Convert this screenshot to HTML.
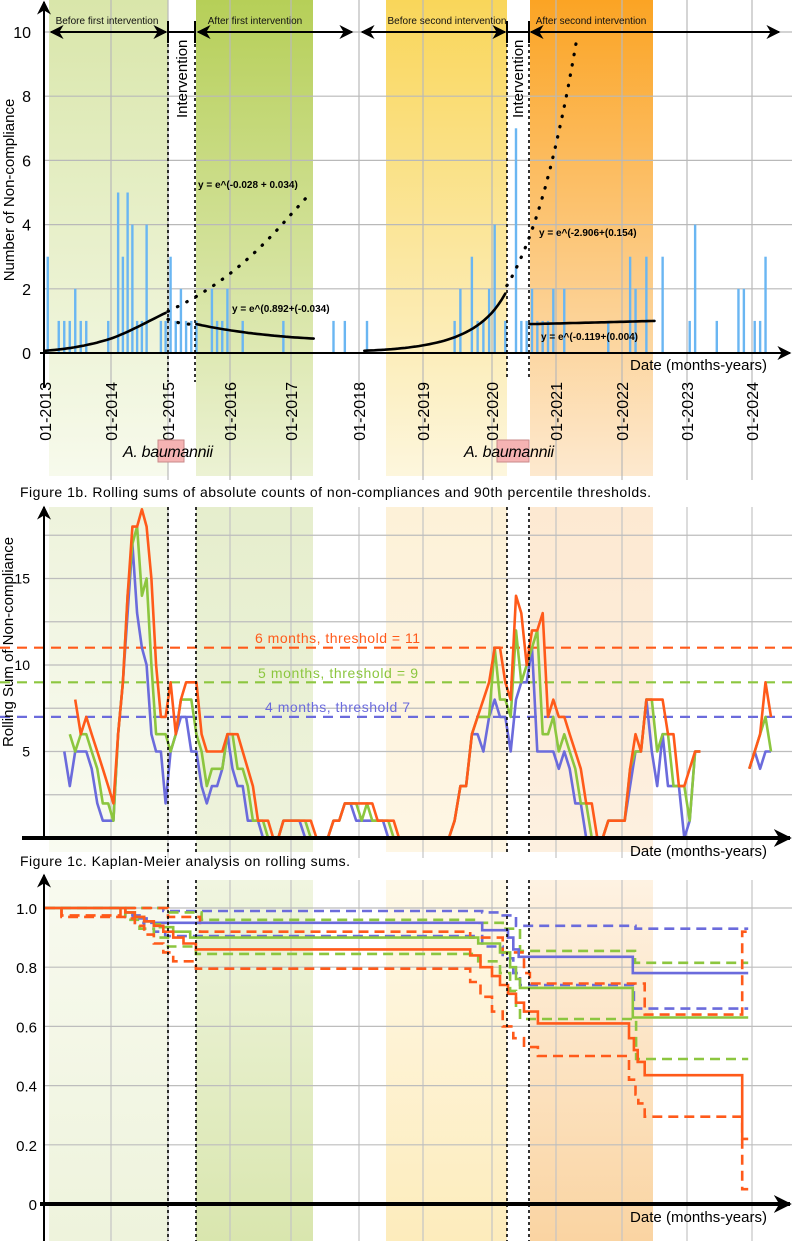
<!DOCTYPE html>
<html><head><meta charset="utf-8">
<style>
html,body{margin:0;padding:0;background:#fff;}
svg{display:block;font-family:"Liberation Sans",Arial,sans-serif;}
</style></head>
<body>
<svg id="fig" width="792" height="1241" viewBox="0 0 792 1241" xmlns="http://www.w3.org/2000/svg">
<defs>
<linearGradient id="ga1" x1="0" y1="0" x2="0" y2="1"><stop offset="0" stop-color="#d9e6aa"/><stop offset="1" stop-color="#f7faec"/></linearGradient>
<linearGradient id="ga2" x1="0" y1="0" x2="0" y2="1"><stop offset="0" stop-color="#b6cf58"/><stop offset="1" stop-color="#ecf2d4"/></linearGradient>
<linearGradient id="ga3" x1="0" y1="0" x2="0" y2="1"><stop offset="0" stop-color="#f9d65a"/><stop offset="1" stop-color="#fdf6dd"/></linearGradient>
<linearGradient id="ga4" x1="0" y1="0" x2="0" y2="1"><stop offset="0" stop-color="#fba424"/><stop offset="1" stop-color="#fde9cf"/></linearGradient>
<linearGradient id="gb1" x1="0" y1="0" x2="0" y2="1"><stop offset="0" stop-color="#eef3dc"/><stop offset="1" stop-color="#f9fbf1"/></linearGradient>
<linearGradient id="gb2" x1="0" y1="0" x2="0" y2="1"><stop offset="0" stop-color="#e6eecd"/><stop offset="1" stop-color="#eef3dc"/></linearGradient>
<linearGradient id="gb3" x1="0" y1="0" x2="0" y2="1"><stop offset="0" stop-color="#fdf1d8"/><stop offset="1" stop-color="#fef6e4"/></linearGradient>
<linearGradient id="gb4" x1="0" y1="0" x2="0" y2="1"><stop offset="0" stop-color="#fde9d2"/><stop offset="1" stop-color="#fdf0e0"/></linearGradient>
<linearGradient id="gc1" x1="0" y1="0" x2="0" y2="1"><stop offset="0" stop-color="#f8faef"/><stop offset="1" stop-color="#eef3dc"/></linearGradient>
<linearGradient id="gc2" x1="0" y1="0" x2="0" y2="1"><stop offset="0" stop-color="#f0f5e0"/><stop offset="1" stop-color="#d9e6ae"/></linearGradient>
<linearGradient id="gc3" x1="0" y1="0" x2="0" y2="1"><stop offset="0" stop-color="#fef8e8"/><stop offset="1" stop-color="#fdecbc"/></linearGradient>
<linearGradient id="gc4" x1="0" y1="0" x2="0" y2="1"><stop offset="0" stop-color="#fef2e2"/><stop offset="1" stop-color="#fad4a2"/></linearGradient>
<marker id="ah" viewBox="0 0 10 10" refX="9" refY="5" markerUnits="userSpaceOnUse" markerWidth="14" markerHeight="14" orient="auto-start-reverse"><path d="M0,0 L10,5 L0,10 L3,5 z" fill="#000"/></marker>
<marker id="ahb" viewBox="0 0 10 10" refX="9" refY="5" markerUnits="userSpaceOnUse" markerWidth="18" markerHeight="18" orient="auto-start-reverse"><path d="M0,0 L10,5 L0,10 L3,5 z" fill="#000"/></marker>
</defs>

<g>
<rect x="49" y="0" width="119" height="476" fill="url(#ga1)"/>
<rect x="196" y="0" width="117" height="476" fill="url(#ga2)"/>
<rect x="386" y="0" width="121" height="476" fill="url(#ga3)"/>
<rect x="530" y="0" width="123" height="476" fill="url(#ga4)"/>
<rect x="49" y="507" width="119" height="345" fill="url(#gb1)"/>
<rect x="196" y="507" width="117" height="345" fill="url(#gb2)"/>
<rect x="386" y="507" width="121" height="345" fill="url(#gb3)"/>
<rect x="530" y="507" width="123" height="345" fill="url(#gb4)"/>
<rect x="49" y="880" width="119" height="361" fill="url(#gc1)"/>
<rect x="196" y="880" width="117" height="361" fill="url(#gc2)"/>
<rect x="386" y="880" width="121" height="361" fill="url(#gc3)"/>
<rect x="530" y="880" width="123" height="361" fill="url(#gc4)"/>
</g>
<g id="grid"></g>
<g id="marks"></g>

<g stroke="#000" stroke-width="1.6" stroke-dasharray="3,3">
<line x1="168" y1="32" x2="168" y2="382"/>
<line x1="195" y1="32" x2="195" y2="382"/>
<line x1="507" y1="32" x2="507" y2="380"/>
<line x1="529" y1="32" x2="529" y2="380"/>
<line x1="168" y1="507" x2="168" y2="852"/>
<line x1="196" y1="507" x2="196" y2="852"/>
<line x1="507" y1="507" x2="507" y2="852"/>
<line x1="529" y1="507" x2="529" y2="852"/>
<line x1="168" y1="880" x2="168" y2="1241"/>
<line x1="196" y1="880" x2="196" y2="1241"/>
<line x1="507" y1="880" x2="507" y2="1241"/>
<line x1="529" y1="880" x2="529" y2="1241"/>
</g>

<g stroke="#000" stroke-width="2" fill="none">
<line x1="51" y1="32" x2="166" y2="32" marker-start="url(#ah)" marker-end="url(#ah)"/>
<line x1="168" y1="32" x2="195" y2="32"/>
<line x1="168" y1="21" x2="168" y2="43"/>
<line x1="195" y1="21" x2="195" y2="43"/>
<line x1="198" y1="32" x2="352" y2="32" marker-start="url(#ah)" marker-end="url(#ah)"/>
<line x1="362" y1="32" x2="505" y2="32" marker-start="url(#ah)" marker-end="url(#ah)"/>
<line x1="507" y1="32" x2="529" y2="32"/>
<line x1="507" y1="21" x2="507" y2="43"/>
<line x1="529" y1="21" x2="529" y2="43"/>
<line x1="531" y1="32" x2="779" y2="32" marker-start="url(#ah)" marker-end="url(#ah)"/>
</g>
<g font-size="10" fill="#111" text-anchor="middle">
<text x="107" y="24">Before first intervention</text>
<text x="255" y="24">After first intervention</text>
<text x="447" y="24">Before second intervention</text>
<text x="591" y="24">After second intervention</text>
</g>
<text font-size="15" transform="translate(187,118) rotate(-90)">Intervention</text>
<text font-size="15" transform="translate(523,118) rotate(-90)">Intervention</text>

<g stroke="#000" fill="none">
<line x1="44" y1="388" x2="44" y2="2" stroke-width="2" marker-end="url(#ah)"/>
<line x1="40" y1="353" x2="790" y2="353" stroke-width="2" marker-end="url(#ah)"/>
<line x1="44" y1="838" x2="44" y2="507" stroke-width="2" marker-end="url(#ah)"/>
<line x1="22" y1="838" x2="790" y2="838" stroke-width="4" marker-end="url(#ahb)"/>
<line x1="44" y1="1241" x2="44" y2="875" stroke-width="2" marker-end="url(#ah)"/>
<line x1="40" y1="1204" x2="790" y2="1204" stroke-width="4" marker-end="url(#ahb)"/>
</g>

<g id="labels"></g>

<text font-size="15" text-anchor="middle" transform="translate(14,190) rotate(-90)">Number of Non-compliance</text>
<text font-size="15" text-anchor="middle" transform="translate(13,642) rotate(-90)">Rolling Sum of Non-compliance</text>
<text font-size="15" x="630" y="370" textLength="137">Date (months-years)</text>
<text font-size="15" x="630" y="856" textLength="137">Date (months-years)</text>
<text font-size="15" x="630" y="1222" textLength="137">Date (months-years)</text>

<text font-size="14" x="20" y="497" textLength="631">Figure 1b. Rolling sums of absolute counts of non-compliances and 90th percentile thresholds.</text>
<text font-size="14" x="20" y="866" textLength="330">Figure 1c. Kaplan-Meier analysis on rolling sums.</text>

<g>
<rect x="158" y="440" width="26" height="22" fill="#f5b3b3" stroke="#c98a8a"/>
<rect x="497" y="440" width="32" height="22" fill="#f5b3b3" stroke="#c98a8a"/>
<text font-size="16" font-style="italic" x="123" y="457" textLength="90">A. baumannii</text>
<text font-size="16" font-style="italic" x="464" y="457" textLength="90">A. baumannii</text>
</g>

<g font-size="14" text-anchor="start">
<text x="255" y="643" fill="#ff5a1a" textLength="165">6 months, threshold = 11</text>
<text x="258" y="678" fill="#8cc63f" textLength="160">5 months, threshold = 9</text>
<text x="265" y="712" fill="#6b6bdc" textLength="145">4 months, threshold 7</text>
</g>

<g font-size="10" font-weight="bold">
<text x="198" y="188">y = e^(-0.028 + 0.034)</text>
<text x="232" y="312">y = e^(0.892+(-0.034)</text>
<text x="539" y="236">y = e^(-2.906+(0.154)</text>
<text x="541" y="340">y = e^(-0.119+(0.004)</text>
</g>
</svg>

<script>
// ---------- data ----------
const yearLabels = ["01-2013","01-2014","01-2015","01-2016","01-2017","01-2018","01-2019","01-2020","01-2021","01-2022","01-2023","01-2024"];
const topTicks = [0,2,4,6,8,10];
const rollTicks = [5,10,15];
const rollGrid = [2.5,5,7.5,10,12.5,15,17.5];
const kmTicks = [0,0.2,0.4,0.6,0.8,1.0];
const kmTickLabels = ["0","0.2","0.4","0.6","0.8","1.0"];
const barMonths = [0,2,3,4,5,6,7,11,13,14,15,16,17,18,19,22,23,24,25,26,27,28,29,32,33,34,35,38,46,55,57,61,77,78,80,81,82,83,84,86,88,89,90,91,92,93,94,95,97,105,109,110,112,115,120,121,125,129,130,132,133,134];
const barCounts = [3,1,1,1,2,1,1,1,5,3,5,4,1,1,4,1,1,3,1,2,1,1,1,2,1,1,2,1,1,1,1,1,1,2,3,1,1,2,4,1,7,1,1,2,1,1,1,2,2,1,3,2,3,3,1,4,1,2,2,1,1,3];
const roll4 = [null,null,null,5,3,5,5,5,4,2,1,1,1,6,9,13,17,13,11,10,6,5,5,2,5,6,7,7,5,5,3,2,3,3,4,6,4,3,3,1,1,1,0,0,0,0,1,1,1,1,0,0,0,0,0,1,1,2,2,1,1,1,1,1,1,0,0,0,0,0,0,0,0,0,0,0,0,1,3,3,6,6,5,7,8,7,7,5,8,9,9,11,5,5,5,5,4,5,4,2,2,0,0,0,0,1,1,1,1,3,5,5,8,5,3,6,3,3,3,0,1,5,5,null,null,null,null,null,null,null,null,4,5,4,5,5];
const roll5 = [null,null,null,null,6,5,6,6,5,4,2,2,1,6,9,14,17,18,14,15,10,6,6,6,5,6,8,8,8,6,5,3,4,4,4,6,6,4,4,3,1,1,1,0,0,0,1,1,1,1,1,0,0,0,0,1,1,2,2,2,1,2,1,1,1,1,0,0,0,0,0,0,0,0,0,0,0,1,3,3,6,7,7,7,11,8,8,7,12,9,10,11,12,6,6,7,5,6,5,4,2,2,0,0,0,1,1,1,1,4,5,5,8,8,5,6,6,3,3,3,1,5,5,null,null,null,null,null,null,null,null,4,5,6,7,5];
const roll6 = [null,null,null,null,null,8,6,7,6,5,4,3,2,6,9,14,18,18,19,18,15,10,7,7,9,6,8,9,9,9,6,5,5,5,5,6,6,6,5,4,3,1,1,1,0,0,1,1,1,1,1,1,0,0,0,1,1,2,2,2,2,2,2,1,1,1,1,0,0,0,0,0,0,0,0,0,0,1,3,3,6,7,8,9,11,11,9,8,14,13,10,12,12,13,7,8,7,7,6,5,4,2,2,0,0,1,1,1,1,4,6,5,8,8,8,8,6,6,3,3,4,5,5,null,null,null,null,null,null,null,null,4,5,6,9,7];
const thresholds = [11,9,7];
const kmEnd = 131.3;
const kmPurpleT = [0,15,16.5,18,19.5,20.5,82.3,87,88,89,110];
const kmPurpleV = [1,0.985,0.975,0.965,0.955,0.95,0.925,0.9,0.86,0.835,0.78];
const kmPurpleUpT = [0,23,82.3,86,88.5,110.5];
const kmPurpleUpV = [1,0.99,0.985,0.975,0.94,0.93];
const kmPurpleLoT = [0,15,17,19,21,23.4,82.3,86,88,89.25,110.2];
const kmPurpleLoV = [1,0.97,0.95,0.93,0.92,0.905,0.87,0.83,0.78,0.74,0.66];
const kmGreenT = [0,15,17,19,21,22.3,25,28.3,81.6,85.5,87.4,88.5,89.25,110];
const kmGreenV = [1,0.985,0.97,0.955,0.945,0.935,0.92,0.9,0.88,0.85,0.8,0.76,0.73,0.63];
const kmGreenUpT = [0,24,30.5,81.6,86,89.25,110.4];
const kmGreenUpV = [1,0.985,0.96,0.95,0.93,0.855,0.815];
const kmGreenLoT = [0,15,18,21,24,29.4,81.6,85.5,87.4,88.5,89.25,110.6];
const kmGreenLoV = [1,0.96,0.93,0.9,0.87,0.845,0.82,0.78,0.72,0.67,0.625,0.49];
const kmOrangeT = [0,15,17,19,21,23,25,27,29.4,80.2,82,84,85.5,87,88.5,90,92.6,109.3,110.2,110.9,112.2,130.2];
const kmOrangeV = [1,0.985,0.97,0.955,0.94,0.92,0.9,0.88,0.86,0.84,0.8,0.77,0.74,0.71,0.68,0.65,0.61,0.56,0.52,0.48,0.435,0.22];
const kmOrangeUpT = [0,3,14,24,30.2,80.2,86,90,91.1,112.2,130.2];
const kmOrangeUpV = [1,0.975,1,0.97,0.92,0.9,0.85,0.78,0.745,0.64,0.92];
const kmOrangeLoT = [0,3,14.9,17,19,21,23,25,29.4,80.2,82,84,86,88,90,92.6,109.3,110.5,111,112.2,130.2];
const kmOrangeLoV = [1,0.97,0.965,0.94,0.91,0.88,0.85,0.82,0.795,0.75,0.7,0.65,0.6,0.56,0.53,0.5,0.42,0.37,0.34,0.295,0.05];
const fitPreFirstM = [0,12,23.5], fitPreFirstV = [0.07,0.45,1.25];
const fitProjFirstM = [24,37,51.5], fitProjFirstV = [1.3,2.6,5.0];
const fitPostFirstM = [29.5,40,52], fitPostFirstV = [0.9,0.62,0.45];
const fitBridgeFirstM = [24,26.5,29.5], fitBridgeFirstV = [1.05,0.93,0.9];
const fitPreSecondM = [61,76,86.5], fitPreSecondV = [0.07,0.4,1.85];
const fitProjSecondM = [86.8,93,99.8], fitProjSecondV = [2.1,4.6,9.8];
const fitPostSecondM = [91,103,114], fitPostSecondV = [0.9,0.95,1.0];

// ---------- scales ----------
const yearPx = [45,111,168,230,291,359,423,492,556,622,687,752];
function xT(t){const i=Math.floor(t-2013); if(i>=11) return 752+(t-2024)*65; if(i<0) return 45+(t-2013)*66; return yearPx[i]+(t-2013-i)*(yearPx[i+1]-yearPx[i]);}
function xM(m){return xT(2013+m/12);}
function yTop(v){return 353-v*32.1;}
function yRoll(v){return 838-v*17.3;}
function yKM(v){return 1204-v*296;}

const NS="http://www.w3.org/2000/svg";
function mk(parent,tag,attrs,txt){const e=document.createElementNS(NS,tag);for(const k in attrs)e.setAttribute(k,attrs[k]);if(txt!==undefined)e.textContent=txt;parent.appendChild(e);return e;}
const grid=document.getElementById('grid'), marks=document.getElementById('marks'), labels=document.getElementById('labels');

yearLabels.forEach((lab,i)=>{
  if(i===0) return;
  const x=xT(2013+i);
  const g1=mk(grid,'line',{x1:x,y1:0,x2:x,y2:480,stroke:'#b9b9b9','stroke-width':1.2});
  
  
  const g2=mk(grid,'line',{x1:x,y1:507,x2:x,y2:858,stroke:'#c4c4c4','stroke-width':1.2});
  
  
  const g3=mk(grid,'line',{x1:x,y1:880,x2:x,y2:1241,stroke:'#c4c4c4','stroke-width':1.2});
  
  
});
topTicks.forEach(v=>{
  if(v===0) return;
  const l=mk(grid,'line',{x1:44,y1:yTop(v),x2:792,y2:yTop(v),stroke:'#b9b9b9','stroke-width':1.2});
  
  
});
rollGrid.forEach(v=>{
  const l=mk(grid,'line',{x1:44,y1:yRoll(v),x2:792,y2:yRoll(v),stroke:'#bdbdbd','stroke-width':1.2});
  
  
});
kmTicks.forEach(v=>{
  if(v===0) return;
  const l=mk(grid,'line',{x1:44,y1:yKM(v),x2:792,y2:yKM(v),stroke:'#bdbdbd','stroke-width':1.2});
  
  
});

yearLabels.forEach((lab,i)=>{
  const x=xT(2013+i);
  const t=mk(labels,'text',{transform:'translate('+(x+6)+',382) rotate(-90)','font-size':16,'text-anchor':'end'},lab);
  
  
});
topTicks.forEach(v=>{
  const t=mk(labels,'text',{x:31,y:yTop(v)+6,'font-size':16,'text-anchor':'end'},String(v));
  
  
});
rollTicks.forEach(v=>{
  const t=mk(labels,'text',{x:30,y:yRoll(v)+5,'font-size':14,'text-anchor':'end'},String(v));
  
  
});
kmTicks.forEach((v,i)=>{
  const t=mk(labels,'text',{x:37,y:yKM(v)+6,'font-size':15,'text-anchor':'end'},kmTickLabels[i]);
  
  
});

barMonths.forEach((m,i)=>{
  const x=xM(m+0.5), y=yTop(barCounts[i]);
  const r=mk(marks,'rect',{x:x-1.2,y:y,width:2.4,height:353-y,fill:'#6ab6f2'});
  
  
});

// smooth curve through 3 anchors, interpolated in log space (exponential-like, always positive)
function quadPath(M,V,yf){
  const LV=V.map(Math.log);
  let d='';
  for(let k=0;k<=40;k++){
    const m=M[0]+(M[2]-M[0])*k/40;
    const L0=(m-M[1])*(m-M[2])/((M[0]-M[1])*(M[0]-M[2]));
    const L1=(m-M[0])*(m-M[2])/((M[1]-M[0])*(M[1]-M[2]));
    const L2=(m-M[0])*(m-M[1])/((M[2]-M[0])*(M[2]-M[1]));
    const v=Math.exp(LV[0]*L0+LV[1]*L1+LV[2]*L2);
    d+=(k?'L':'M')+xM(m).toFixed(1)+','+yf(v).toFixed(1);
  }
  return d;
}
[[fitPreFirstM,fitPreFirstV,false,'fit-before-first'],[fitProjFirstM,fitProjFirstV,true,'fit-projection-first'],
 [fitPostFirstM,fitPostFirstV,false,'fit-after-first'],[fitBridgeFirstM,fitBridgeFirstV,true,'fit-bridge-first'],
 [fitPreSecondM,fitPreSecondV,false,'fit-before-second'],[fitProjSecondM,fitProjSecondV,true,'fit-projection-second'],
 [fitPostSecondM,fitPostSecondV,false,'fit-after-second']].forEach(f=>{
  const attrs={d:quadPath(f[0],f[1],yTop),fill:'none',stroke:'#000','stroke-width':f[2]?3.2:2.6,'stroke-linecap':'round'};
  if(f[2]) attrs['stroke-dasharray']='0.5,10';
  const p=mk(marks,'path',attrs);
  
  
});

const thrColors=['#ff5a1a','#8cc63f','#6b6bdc'];
thresholds.forEach((v,i)=>{
  const l=mk(marks,'line',{x1:0,y1:yRoll(v),x2:792,y2:yRoll(v),stroke:thrColors[i],'stroke-width':2.2,'stroke-dasharray':'10,7'});
  
  
});

function rollPath(arr){
  let d='',pen=false;
  arr.forEach((v,m)=>{
    if(v===null){pen=false;return;}
    d+=(pen?'L':'M')+xM(m+0.5).toFixed(1)+','+yRoll(v).toFixed(1);pen=true;
  });
  return d;
}
[[roll4,'#6b6bdc','rolling-sum-4-months'],[roll5,'#8cc63f','rolling-sum-5-months'],[roll6,'#ff5a1a','rolling-sum-6-months']].forEach(s=>{
  const p=mk(marks,'path',{d:rollPath(s[0]),fill:'none',stroke:s[1],'stroke-width':2.6,'stroke-linejoin':'round'});
  
  
});

function stepPath(T,V){
  let d='M'+xM(T[0]).toFixed(1)+','+yKM(V[0]).toFixed(1);
  for(let i=1;i<T.length;i++){d+='H'+xM(T[i]).toFixed(1)+'V'+yKM(V[i]).toFixed(1);}
  d+='H'+xM(kmEnd).toFixed(1);
  return d;
}
const kmSeries=[
 [kmPurpleUpT,kmPurpleUpV,'#6b6bdc',true,'km-4m-upper-ci'],[kmPurpleLoT,kmPurpleLoV,'#6b6bdc',true,'km-4m-lower-ci'],
 [kmGreenUpT,kmGreenUpV,'#8cc63f',true,'km-5m-upper-ci'],[kmGreenLoT,kmGreenLoV,'#8cc63f',true,'km-5m-lower-ci'],
 [kmOrangeUpT,kmOrangeUpV,'#ff5a1a',true,'km-6m-upper-ci'],[kmOrangeLoT,kmOrangeLoV,'#ff5a1a',true,'km-6m-lower-ci'],
 [kmPurpleT,kmPurpleV,'#6b6bdc',false,'km-4m-survival'],[kmGreenT,kmGreenV,'#8cc63f',false,'km-5m-survival'],
 [kmOrangeT,kmOrangeV,'#ff5a1a',false,'km-6m-survival']];
kmSeries.forEach(s=>{
  const attrs={d:stepPath(s[0],s[1]),fill:'none',stroke:s[2],'stroke-width':2.6};
  if(s[3]) attrs['stroke-dasharray']='10,6';
  const p=mk(marks,'path',attrs);
  
  
});
</script>
</body></html>
